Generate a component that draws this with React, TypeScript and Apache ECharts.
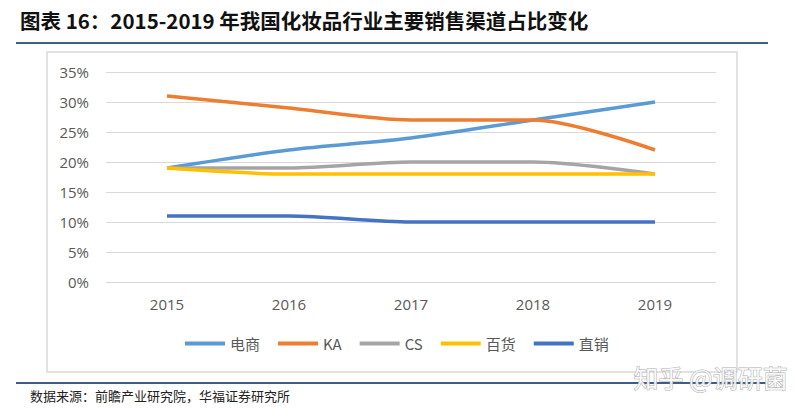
import React, { useEffect, useRef } from "react";
import * as echarts from "echarts";

const years = ["2015", "2016", "2017", "2018", "2019"];
const seriesNames = ["电商", "KA", "CS", "百货", "直销"];
const ecommerce = [19, 22, 24, 27, 30];
const ka = [31, 29, 27, 27, 22];
const cs = [19, 19, 20, 20, 18];
const deptStore = [19, 18, 18, 18, 18];
const directSale = [11, 11, 10, 10, 10];
const colors = ["#5B9BD5", "#ED7D31", "#A5A5A5", "#FFC000", "#4472C4"];
const titleText = "图表 16：2015-2019 年我国化妆品行业主要销售渠道占比变化";
const sourceText = "数据来源：前瞻产业研究院，华福证券研究所";
const watermark = "知乎 @调研菌";

export default function App() {
  const ref = useRef<HTMLDivElement>(null);
  useEffect(() => {
    if (!ref.current) return;
    const chart = echarts.init(ref.current, null, { renderer: "svg" });
    const allData = [ecommerce, ka, cs, deptStore, directSale];
    chart.setOption({
      animation: false,
      backgroundColor: "#ffffff",
      textStyle: { fontFamily: "'Open Sans', 'Noto Sans CJK SC', sans-serif" },
      graphic: [
        {
          type: "text",
          left: 20,
          top: 10,
          style: {
            text: titleText,
            font: "bold 20.5px 'Noto Sans CJK SC', sans-serif",
            fill: "#111111",
          },
        },
        {
          type: "line",
          shape: { x1: 16, y1: 43, x2: 768, y2: 43 },
          style: { stroke: "#3F5E86", lineWidth: 2 },
        },
        {
          type: "rect",
          shape: { x: 47, y: 52, width: 690, height: 320 },
          style: { fill: "none", stroke: "#D9D9D9", lineWidth: 1.5 },
          z: -1,
        },
        {
          type: "line",
          shape: { x1: 16, y1: 383, x2: 768, y2: 383 },
          style: { stroke: "#3F5E86", lineWidth: 2 },
        },
        {
          type: "text",
          left: 30,
          top: 389,
          style: {
            text: sourceText,
            font: "13px 'Noto Sans CJK SC', serif",
            fill: "#222222",
          },
        },
        {
          type: "text",
          left: 633,
          top: 364,
          style: {
            text: watermark,
            font: "25px 'Noto Sans CJK SC', sans-serif",
            fill: "rgba(255,255,255,0.85)",
            stroke: "#b0b0b0",
            lineWidth: 1,
          },
          z: 100,
        },
      ],
      grid: { left: 106, right: 86, top: 72, bottom: 130 },
      legend: {
        data: seriesNames,
        top: 331,
        left: 180,
        icon: "rect",
        itemWidth: 40,
        itemHeight: 4,
        itemGap: 18,
        textStyle: { color: "#595959", fontSize: 15, fontFamily: "'Noto Sans CJK SC', sans-serif" },
      },
      xAxis: {
        type: "category",
        data: years,
        boundaryGap: true,
        axisLine: { show: false },
        axisTick: { show: false },
        axisLabel: { color: "#595959", fontSize: 15, margin: 14 },
      },
      yAxis: {
        type: "value",
        min: 0,
        max: 35,
        interval: 5,
        axisLine: { show: false },
        axisTick: { show: false },
        axisLabel: { color: "#595959", fontSize: 15, margin: 17, formatter: "{value}%" },
        splitLine: { lineStyle: { color: "#D9D9D9", width: 1 } },
      },
      series: seriesNames.map((name, i) => ({
        name,
        type: "line",
        data: allData[i],
        smooth: 0.3,
        showSymbol: false,
        symbol: "none",
        lineStyle: { color: colors[i], width: 3.5 },
        itemStyle: { color: colors[i] },
      })),
    });
    return () => chart.dispose();
  }, []);
  return (
    <div
      ref={ref}
      style={{ position: "absolute", left: 0, top: 0, width: 802, height: 412 }}
    />
  );
}
